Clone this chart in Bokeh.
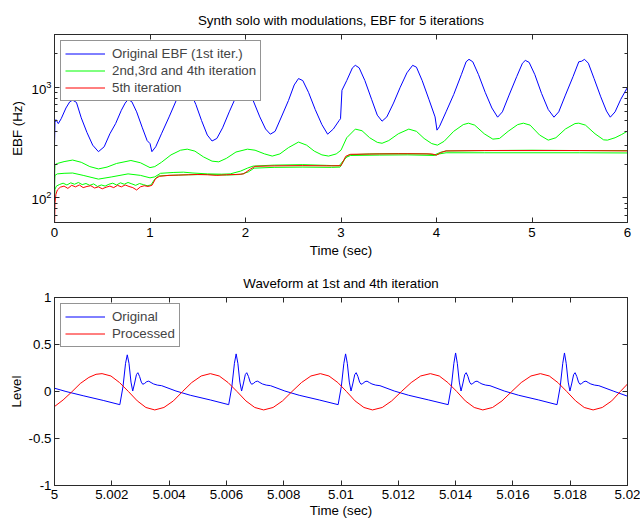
from bokeh.plotting import figure
from bokeh.models import (LinearAxis, LogAxis, FixedTicker, CustomJSTickFormatter,
                          Legend, LegendItem, Range1d)
from bokeh.layouts import column
from bokeh.embed import file_html
from bokeh.resources import INLINE

# ---------------- data: top panel (EBF, Hz) ----------------
T_BLUE = [0.0, 0.005, 0.015, 0.04, 0.07, 0.12, 0.16, 0.19, 0.23, 0.28, 0.34, 0.40, 0.46, 0.52,
          0.58, 0.64, 0.70, 0.74, 0.77, 0.81, 0.86, 0.92, 0.97, 1.00, 1.02, 1.06, 1.12, 1.20,
          1.28, 1.34, 1.38, 1.42, 1.48, 1.54, 1.60, 1.65, 1.70, 1.76, 1.83, 1.90, 1.95, 1.98,
          2.02, 2.08, 2.15, 2.21, 2.26, 2.31, 2.38, 2.45, 2.51, 2.555, 2.60, 2.66, 2.73, 2.80,
          2.86, 2.92, 2.98, 2.995, 3.01, 3.06, 3.12, 3.15, 3.19, 3.25, 3.32, 3.38, 3.43, 3.48,
          3.55, 3.62, 3.69, 3.75, 3.79, 3.85, 3.92, 3.985, 4.005, 4.03, 4.10, 4.18, 4.26, 4.31,
          4.34, 4.38, 4.44, 4.51, 4.58, 4.64, 4.69, 4.76, 4.84, 4.90, 4.93, 4.97, 5.03, 5.10,
          5.17, 5.23, 5.28, 5.35, 5.43, 5.49, 5.52, 5.55, 5.59, 5.65, 5.72, 5.78, 5.82, 5.87,
          5.93, 6.0]
V_BLUE = [300, 480, 510, 470, 520, 650, 740, 765, 730, 530, 390, 300, 262, 290,
          380, 470, 620, 720, 775, 740, 600, 430, 330, 310, 262, 290, 380, 540,
          780, 920, 960, 920, 700, 500, 370, 327, 345, 430, 600, 820, 960, 1000,
          950, 760, 540, 420, 377, 400, 550, 760, 1050, 1200, 1150, 900, 630, 460,
          377, 420, 500, 520, 940, 1150, 1500, 1580, 1500, 1150, 780, 560, 494, 540,
          720, 1000, 1350, 1580, 1520, 1150, 780, 540, 410, 440, 600, 860, 1300, 1700,
          1790, 1700, 1300, 900, 650, 537, 600, 850, 1250, 1650, 1750, 1680, 1300, 880,
          630, 537, 600, 850, 1250, 1700, 1720, 1790, 1650, 1200, 820, 610, 537, 600,
          780, 1000]

T_GREEN_A = [0.0, 0.005, 0.03, 0.1, 0.19, 0.28, 0.37, 0.46, 0.55, 0.65, 0.8, 0.9, 1.0, 1.05,
             1.12, 1.22, 1.32, 1.39, 1.47, 1.56, 1.65, 1.72, 1.8, 1.9, 2.02, 2.1, 2.2, 2.28,
             2.36, 2.45, 2.555, 2.64, 2.72, 2.8, 2.87, 2.95, 3.0, 3.06, 3.15, 3.22, 3.3, 3.38,
             3.43, 3.5, 3.6, 3.71, 3.79, 3.87, 3.95, 4.01, 4.08, 4.18, 4.28, 4.335, 4.4, 4.5,
             4.59, 4.66, 4.75, 4.85, 4.91, 4.98, 5.08, 5.17, 5.25, 5.35, 5.45, 5.49, 5.56,
             5.66, 5.75, 5.79, 5.87, 5.94, 6.0]
V_GREEN_A = [150, 200, 205, 213, 220, 210, 192, 183, 190, 205, 218, 208, 188, 192,
             210, 245, 270, 276, 265, 235, 215, 212, 228, 260, 276, 270, 250, 239,
             250, 285, 320, 300, 265, 245, 239, 250, 270, 350, 419, 405, 350, 318,
             312, 330, 380, 419, 400, 345, 310, 300, 325, 400, 460, 474, 455, 380,
             340, 345, 400, 460, 474, 455, 370, 333, 350, 420, 470, 474, 455,
             380, 335, 333, 350, 375, 402]

T_GREEN_B = [0.0, 0.005, 0.03, 0.1, 0.19, 0.3, 0.46, 0.6, 0.77, 0.9, 1.0, 1.05, 1.11, 1.25,
             1.35, 1.45, 1.6, 1.75, 1.84, 1.95, 2.02, 2.08, 2.3, 2.6, 2.85, 2.98, 3.04, 3.08,
             3.3, 3.6, 3.9, 3.98, 4.04, 4.1, 4.5, 5.0, 5.5, 6.0]
V_GREEN_B = [120, 160, 165, 167, 168, 160, 148, 155, 165, 160, 152, 155, 167, 170,
             171, 168, 165, 164, 165, 175, 186, 194, 198, 200, 197, 195, 225, 245,
             250, 252, 250, 245, 258, 266, 268, 270, 268, 268]

T_GREEN_C = [0.0, 0.005, 0.02, 0.05, 0.09, 0.13, 0.17, 0.21, 0.25, 0.29, 0.33, 0.37, 0.41,
             0.45, 0.49, 0.53, 0.57, 0.61, 0.65, 0.69, 0.73, 0.77, 0.81, 0.85, 0.89, 0.93,
             0.97, 1.01, 1.05, 1.09, 1.2, 1.4, 1.6, 1.8, 1.95, 2.03, 2.09, 2.3, 2.6, 2.9,
             2.99, 3.05, 3.1, 3.4, 3.7, 3.98, 4.03, 4.1, 4.5, 5.0, 5.5, 6.0]
V_GREEN_C = [90, 120, 128, 132, 136, 131, 137, 133, 138, 132, 135, 130, 134,
             127, 131, 128, 133, 136, 131, 137, 133, 138, 134, 130, 135, 132,
             129, 131, 148, 158, 160, 162, 163, 161, 163, 172, 186, 189, 190, 189,
             190, 232, 242, 244, 245, 242, 250, 256, 256, 256, 256, 255]

T_RED = [0.0, 0.005, 0.015, 0.03, 0.06, 0.1, 0.14, 0.18, 0.22, 0.26, 0.3, 0.34, 0.38, 0.42,
         0.46, 0.5, 0.54, 0.58, 0.62, 0.66, 0.7, 0.74, 0.78, 0.82, 0.86, 0.9, 0.94, 0.98,
         1.02, 1.06, 1.1, 1.2, 1.3, 1.4, 1.5, 1.6, 1.7, 1.8, 1.9, 1.98, 2.05, 2.1, 2.3,
         2.6, 2.9, 3.0, 3.05, 3.1, 3.4, 3.7, 3.95, 4.0, 4.05, 4.1, 4.5, 5.0, 5.5, 6.0]
V_RED = [50, 90, 108, 118, 125, 128, 122, 130, 126, 131, 124, 127, 129, 123,
         126, 121, 125, 128, 124, 130, 126, 131, 127, 124, 118, 126, 129, 127,
         130, 150, 157, 160, 161, 162, 163, 162, 160, 162, 163, 165, 182, 193, 195,
         196, 195, 196, 238, 248, 250, 251, 250, 244, 258, 266, 268, 268, 268, 266]

TOP_XTICKS = [0, 1, 2, 3, 4, 5, 6]
TOP_YTICKS = [100, 1000]
TOP_YMINOR = [60, 70, 80, 90, 200, 300, 400, 500, 600, 700, 800, 900, 2000, 3000]

# ---------------- data: bottom panel (waveform) ----------------
T_ORIG = [5.0, 5.0004, 5.001, 5.0017,
          5.00228, 5.00239, 5.00248, 5.00254, 5.00260, 5.00267, 5.00273, 5.00279, 5.00286,
          5.00291, 5.00297, 5.00303, 5.00308, 5.00314, 5.00322, 5.00329, 5.00337, 5.00346,
          5.00359, 5.00374, 5.00424, 5.00474, 5.00544,
          5.00608, 5.00619, 5.00628, 5.00634, 5.00640, 5.00647, 5.00653, 5.00659, 5.00666,
          5.00671, 5.00677, 5.00683, 5.00688, 5.00694, 5.00702, 5.00709, 5.00717, 5.00726,
          5.00739, 5.00754, 5.00804, 5.00854, 5.00924,
          5.00990, 5.01001, 5.01010, 5.01016, 5.01022, 5.01029, 5.01035, 5.01041, 5.01048,
          5.01053, 5.01059, 5.01065, 5.01070, 5.01076, 5.01084, 5.01091, 5.01099, 5.01108,
          5.01121, 5.01136, 5.01186, 5.01236, 5.01306,
          5.01374, 5.01385, 5.01394, 5.01400, 5.01406, 5.01413, 5.01419, 5.01425, 5.01432,
          5.01437, 5.01443, 5.01449, 5.01454, 5.01460, 5.01468, 5.01475, 5.01483, 5.01492,
          5.01505, 5.01520, 5.01570, 5.01620, 5.01690,
          5.01754, 5.01765, 5.01774, 5.01780, 5.01786, 5.01793, 5.01799, 5.01805, 5.01812,
          5.01817, 5.01823, 5.01829, 5.01834, 5.01840, 5.01848, 5.01855, 5.01863, 5.01872,
          5.01885, 5.01900, 5.01950, 5.02000]
V_ORIG = [0.035, 0.0, -0.045, -0.095,
          -0.14, 0.05, 0.30, 0.39, 0.30, 0.10, 0.005, 0.08, 0.18,
          0.20, 0.16, 0.10, 0.077, 0.085, 0.105, 0.11, 0.095, 0.08,
          0.068, 0.062, 0.005, -0.04, -0.09,
          -0.14, 0.05, 0.30, 0.40, 0.30, 0.10, 0.005, 0.08, 0.18,
          0.20, 0.16, 0.10, 0.077, 0.085, 0.105, 0.11, 0.095, 0.08,
          0.068, 0.062, 0.005, -0.04, -0.09,
          -0.14, 0.05, 0.30, 0.40, 0.30, 0.10, 0.005, 0.08, 0.18,
          0.20, 0.16, 0.10, 0.077, 0.085, 0.105, 0.11, 0.095, 0.08,
          0.068, 0.062, 0.005, -0.04, -0.09,
          -0.14, 0.05, 0.30, 0.41, 0.30, 0.10, 0.005, 0.08, 0.18,
          0.20, 0.16, 0.10, 0.077, 0.085, 0.105, 0.11, 0.095, 0.08,
          0.068, 0.062, 0.005, -0.04, -0.09,
          -0.14, 0.05, 0.30, 0.41, 0.30, 0.10, 0.005, 0.08, 0.18,
          0.20, 0.16, 0.10, 0.077, 0.085, 0.105, 0.11, 0.095, 0.08,
          0.068, 0.062, 0.005, -0.05]

T_PROC = [5.0, 5.0003, 5.0006, 5.0009, 5.0012, 5.00145, 5.00166,
          5.00197, 5.00227, 5.00258, 5.00289, 5.00319, 5.00350,
          5.00382, 5.00415, 5.00447, 5.00479, 5.00512, 5.00544,
          5.00575, 5.00606, 5.00637, 5.00668, 5.00699, 5.00730,
          5.00763, 5.00796, 5.00829, 5.00862, 5.00895, 5.00928,
          5.00958, 5.00989, 5.01019, 5.01049, 5.01080, 5.01110,
          5.01144, 5.01177, 5.01211, 5.01245, 5.01278, 5.01312,
          5.01343, 5.01373, 5.01404, 5.01434, 5.01465, 5.01495,
          5.01529, 5.01562, 5.01596, 5.01629, 5.01663, 5.01696,
          5.01727, 5.01757, 5.01788, 5.01819, 5.01849, 5.01880,
          5.01912, 5.01945, 5.01975, 5.02]
V_PROC = [-0.16, -0.09, -0.005, 0.085, 0.15, 0.183, 0.19,
          0.165, 0.095, 0.0, -0.10, -0.17, -0.196,
          -0.17, -0.10, 0.0, 0.095, 0.165, 0.19,
          0.165, 0.095, 0.0, -0.10, -0.17, -0.196,
          -0.17, -0.10, 0.0, 0.095, 0.165, 0.19,
          0.165, 0.095, 0.0, -0.10, -0.17, -0.196,
          -0.17, -0.10, 0.0, 0.095, 0.165, 0.19,
          0.165, 0.095, 0.0, -0.10, -0.17, -0.196,
          -0.17, -0.10, 0.0, 0.095, 0.165, 0.19,
          0.165, 0.095, 0.0, -0.10, -0.17, -0.196,
          -0.17, -0.10, 0.0, 0.08]

BOT_XTICKS = [5.0, 5.002, 5.004, 5.006, 5.008, 5.01, 5.012, 5.014, 5.016, 5.018, 5.02]
BOT_YTICKS = [-1, -0.5, 0, 0.5, 1]

# ---------------- styling ----------------
FONT = "Liberation Sans"
FS = "13.3px"
FRAME = "#2a2a2a"
BLUE, GREEN, RED = "#0000ff", "#00ff00", "#ff0000"
NUMFMT = "return (Math.round(tick*1000)/1000).toString();"


def style_axis(ax, labels=True):
    ax.major_tick_in = 5
    ax.major_tick_out = 0
    ax.minor_tick_in = 3
    ax.minor_tick_out = 0
    ax.axis_line_color = FRAME
    ax.major_tick_line_color = FRAME
    ax.minor_tick_line_color = FRAME
    ax.major_label_text_font = FONT
    ax.major_label_text_font_size = FS
    ax.major_label_text_color = "black"
    ax.axis_label_text_font = FONT
    ax.axis_label_text_font_size = FS
    ax.axis_label_text_font_style = "normal"
    ax.axis_label_text_color = "black"
    if not labels:
        ax.major_label_text_font_size = "0px"
        ax.major_label_standoff = 0
        ax.formatter = CustomJSTickFormatter(code="return '';")


def style_fig(p):
    p.grid.visible = False
    p.outline_line_color = FRAME
    p.background_fill_color = "white"
    p.border_fill_color = "white"
    p.title.align = "center"
    p.title.text_font = FONT
    p.title.text_font_size = FS
    p.title.text_font_style = "normal"
    p.title.text_color = "black"
    p.title.standoff = 14


def style_legend(lg):
    lg.location = "top_left"
    lg.margin = 6
    lg.padding = 4
    lg.spacing = 0
    lg.glyph_width = 40
    lg.glyph_height = 17
    lg.label_height = 17
    lg.label_standoff = 7
    lg.label_text_font = FONT
    lg.label_text_font_size = FS
    lg.border_line_color = FRAME
    lg.border_line_width = 1
    lg.background_fill_alpha = 1.0


# ---------------- top figure ----------------
p1 = figure(width=640, height=260, x_range=Range1d(0, 6),
            y_range=Range1d(60, 3000), y_axis_type="log",
            title="Synth solo with modulations, EBF for 5 iterations",
            output_backend="svg", toolbar_location=None,
            min_border_left=54, min_border_right=13, min_border_top=34, min_border_bottom=37)
style_fig(p1)

rb = p1.line(T_BLUE, V_BLUE, line_color=BLUE, line_width=1)
rga = p1.line(T_GREEN_A, V_GREEN_A, line_color=GREEN, line_width=1)
p1.line(T_GREEN_B, V_GREEN_B, line_color=GREEN, line_width=1)
p1.line(T_GREEN_C, V_GREEN_C, line_color=GREEN, line_width=1)
rr = p1.line(T_RED, V_RED, line_color=RED, line_width=1)

p1.xaxis.ticker = FixedTicker(ticks=TOP_XTICKS)
p1.xaxis.formatter = CustomJSTickFormatter(code=NUMFMT)
p1.xaxis.axis_label = "Time (sec)"
p1.yaxis.ticker = FixedTicker(ticks=TOP_YTICKS, minor_ticks=TOP_YMINOR)
p1.yaxis.axis_label = "EBF (Hz)"
for ax in p1.xaxis + p1.yaxis:
    style_axis(ax)
p1.xaxis.minor_tick_line_color = None
p1.xaxis.major_label_standoff = 5
p1.xaxis.axis_label_standoff = 3
p1.yaxis.major_label_standoff = 3
p1.yaxis.axis_label_standoff = 4

ax_top1 = LinearAxis(ticker=FixedTicker(ticks=TOP_XTICKS))
style_axis(ax_top1, labels=False)
ax_top1.minor_tick_line_color = None
p1.add_layout(ax_top1, "above")
ax_right1 = LogAxis(ticker=FixedTicker(ticks=TOP_YTICKS, minor_ticks=TOP_YMINOR))
style_axis(ax_right1, labels=False)
p1.add_layout(ax_right1, "right")

lg1 = Legend(items=[LegendItem(label="Original EBF (1st iter.)", renderers=[rb]),
                    LegendItem(label="2nd,3rd and 4th iteration", renderers=[rga]),
                    LegendItem(label="5th iteration", renderers=[rr])])
style_legend(lg1)
p1.add_layout(lg1)

# ---------------- bottom figure ----------------
p2 = figure(width=640, height=260, x_range=Range1d(5.0, 5.02),
            y_range=Range1d(-1, 1), title="Waveform at 1st and 4th iteration",
            output_backend="svg", toolbar_location=None,
            min_border_left=54, min_border_right=13, min_border_top=37, min_border_bottom=34)
style_fig(p2)

ro = p2.line(T_ORIG, V_ORIG, line_color=BLUE, line_width=1)
rp = p2.line(T_PROC, V_PROC, line_color=RED, line_width=1)

p2.xaxis.ticker = FixedTicker(ticks=BOT_XTICKS)
p2.xaxis.formatter = CustomJSTickFormatter(code=NUMFMT)
p2.xaxis.axis_label = "Time (sec)"
p2.yaxis.ticker = FixedTicker(ticks=BOT_YTICKS)
p2.yaxis.formatter = CustomJSTickFormatter(code=NUMFMT)
p2.yaxis.axis_label = "Level"
for ax in p2.xaxis + p2.yaxis:
    style_axis(ax)
p2.xaxis.minor_tick_line_color = None
p2.yaxis.minor_tick_line_color = None
p2.xaxis.major_label_standoff = 4
p2.xaxis.axis_label_standoff = 1
p2.yaxis.major_label_standoff = 3
p2.yaxis.axis_label_standoff = 2

ax_top2 = LinearAxis(ticker=FixedTicker(ticks=BOT_XTICKS))
style_axis(ax_top2, labels=False)
ax_top2.minor_tick_line_color = None
p2.add_layout(ax_top2, "above")
ax_right2 = LinearAxis(ticker=FixedTicker(ticks=BOT_YTICKS))
style_axis(ax_right2, labels=False)
ax_right2.minor_tick_line_color = None
p2.add_layout(ax_right2, "right")

lg2 = Legend(items=[LegendItem(label="Original", renderers=[ro]),
                    LegendItem(label="Processed", renderers=[rp])])
style_legend(lg2)
p2.add_layout(lg2)

layout = column(p1, p2, spacing=0)
open("out.html", "w").write(file_html(layout, INLINE, title="EBF"))
